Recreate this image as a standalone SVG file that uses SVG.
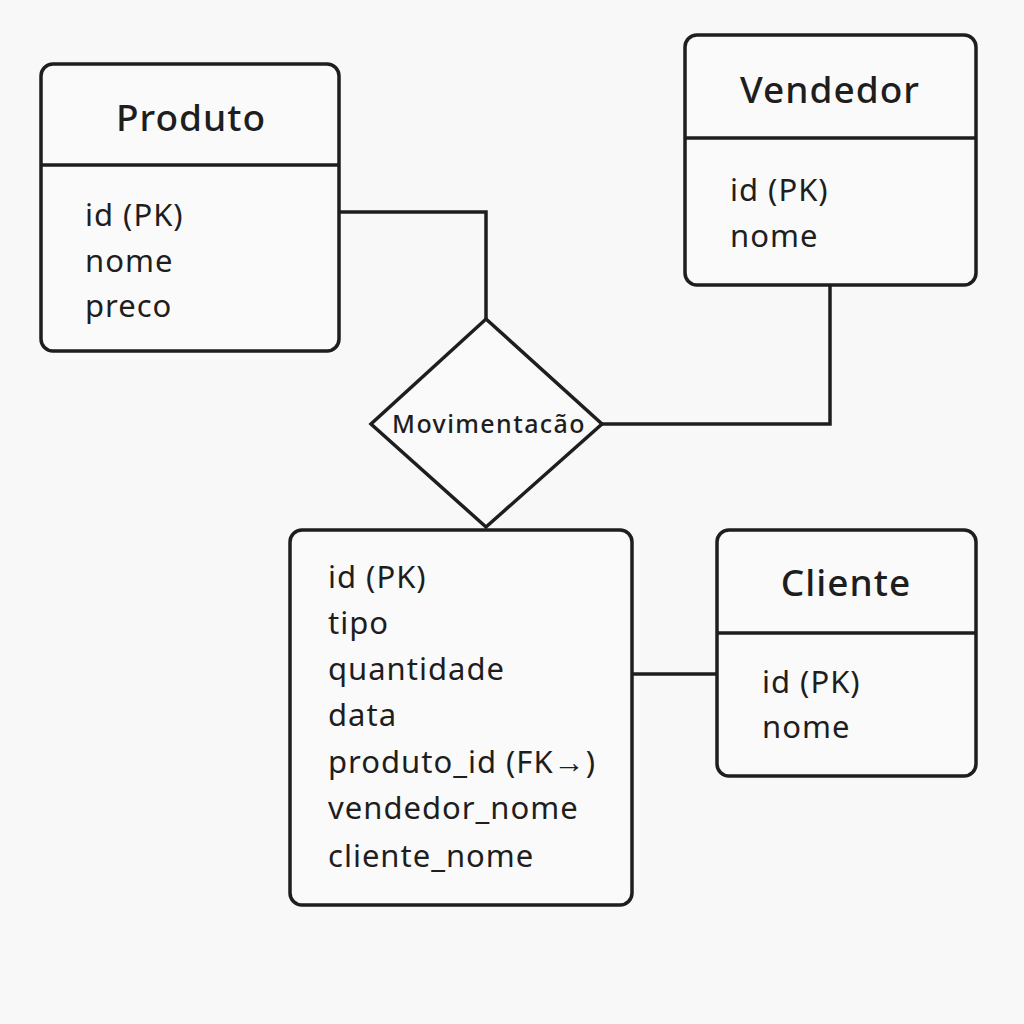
<svg xmlns="http://www.w3.org/2000/svg" width="1024" height="1024" viewBox="0 0 1024 1024">
<style>
.box{fill:#fafafa;stroke:#1e1e1e;stroke-width:3.5}
.ln{fill:none;stroke:#1e1e1e;stroke-width:3.5}
.t{font-family:"Noto Sans","Liberation Sans",sans-serif;font-size:37px;font-weight:500;letter-spacing:1px;fill:#1e1e1e;text-anchor:middle}
.a{font-family:"Noto Sans","Liberation Sans",sans-serif;font-size:31px;letter-spacing:1px;fill:#1e1e1e}
.d{font-family:"Noto Sans","Liberation Sans",sans-serif;font-size:25px;font-weight:500;letter-spacing:1.4px;fill:#1e1e1e;text-anchor:middle}
</style>
<rect width="1024" height="1024" fill="#f8f8f8"/>
<g id="connectors">
<polyline class="ln" points="339,212 486,212 486,319"/>
<polyline class="ln" points="830,285 830,424 602,424"/>
<line class="ln" x1="632" y1="674" x2="717" y2="674"/>
</g>
<g id="produto">
<rect class="box" x="41" y="64" width="298" height="287" rx="12"/>
<line class="ln" x1="41" y1="165" x2="339" y2="165"/>
<text class="t" x="191" y="131">Produto</text>
<text class="a" x="85" y="226">id (PK)</text>
<text class="a" x="85" y="272">nome</text>
<text class="a" x="85" y="317">preco</text>
</g>
<g id="vendedor">
<rect class="box" x="685" y="35" width="291" height="250" rx="12"/>
<line class="ln" x1="685" y1="138" x2="976" y2="138"/>
<text class="t" x="830" y="103">Vendedor</text>
<text class="a" x="730" y="201">id (PK)</text>
<text class="a" x="730" y="247">nome</text>
</g>
<g id="relacao">
<polygon class="box" points="486,319 602,424 486,527 371,424"/>
<text class="d" x="489" y="433">Movimentacão</text>
</g>
<g id="movimentacao">
<rect class="box" x="290" y="530" width="342" height="375" rx="12"/>
<text class="a" x="328" y="588">id (PK)</text>
<text class="a" x="328" y="634">tipo</text>
<text class="a" x="328" y="680">quantidade</text>
<text class="a" x="328" y="726">data</text>
<text class="a" x="328" y="773">produto_id (FK→)</text>
<text class="a" x="328" y="819">vendedor_nome</text>
<text class="a" x="328" y="867">cliente_nome</text>
</g>
<g id="cliente">
<rect class="box" x="717" y="530" width="259" height="246" rx="12"/>
<line class="ln" x1="717" y1="633" x2="976" y2="633"/>
<text class="t" x="846" y="596">Cliente</text>
<text class="a" x="762" y="693">id (PK)</text>
<text class="a" x="762" y="738">nome</text>
</g>
</svg>
